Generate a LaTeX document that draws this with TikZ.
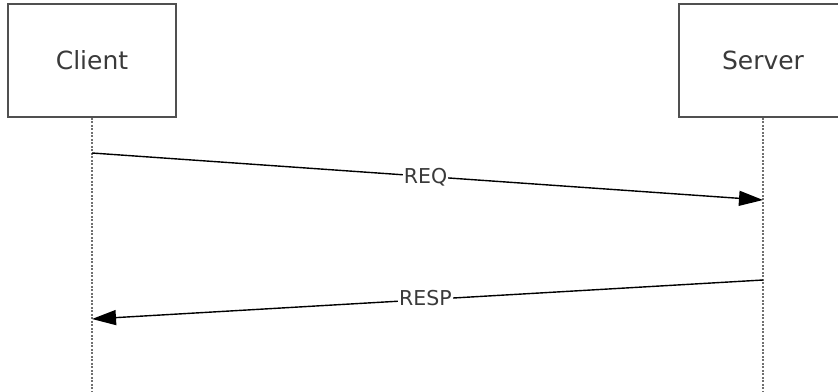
\documentclass[tikz,border=0pt]{standalone}
\usepackage{fontspec}
\setmainfont{DejaVu Sans}
\usepackage{tikz}
\usetikzlibrary{calc}
\usetikzlibrary{positioning}
\usetikzlibrary{arrows.meta}
\definecolor{boxline}{HTML}{505050}
\definecolor{lifeline}{HTML}{707070}
\definecolor{txt}{HTML}{3A3A3A}
\begin{document}
\begin{tikzpicture}[
    x = 1pt,
    y = -1pt,
    actor/.style = {
      rectangle,
      draw=boxline,
      line width=1.5pt,
      fill=white,
      minimum width=168pt,
      minimum height=113pt,
      inner sep=0pt,
      text=txt,
      font=\fontsize{25}{30}\selectfont
    },
    lifelinef/.style = {
      draw=lifeline,
      line width=2.2pt,
      dash pattern=on 2pt off 1.5pt
    },
    msg/.style = {
      draw=black,
      line width=1.4pt,
      -{Triangle[length=24pt,width=15pt]}
    },
    msglabel/.style = {
      fill=white,
      inner sep=1pt,
      text=txt,
      font=\fontsize{20.5}{24}\selectfont
    }
  ]
    \useasboundingbox (0,0) rectangle (838,391);

    \node[actor] (client) at (92,60.5) {Client};
    \node[actor] (server) at (763,60.5) {Server};

    \coordinate (clientend) at (92,391);
    \coordinate (serverend) at (763,391);
    \draw[lifelinef] (client.south) -- (clientend);
    \draw[lifelinef] (server.south) -- (serverend);

    \coordinate (reqa) at (92,153);
    \coordinate (reqb) at (763,200);
    \coordinate (respa) at (763,280);
    \coordinate (respb) at (92,319);

    \draw[msg] (reqa) -- node[msglabel, xshift=-2pt, yshift=-1pt] (req) {REQ} (reqb);
    \draw[msg] (respa) -- node[msglabel, xshift=-2pt, yshift=1pt] (resp) {RESP} (respb);

  \end{tikzpicture}
\end{document}
